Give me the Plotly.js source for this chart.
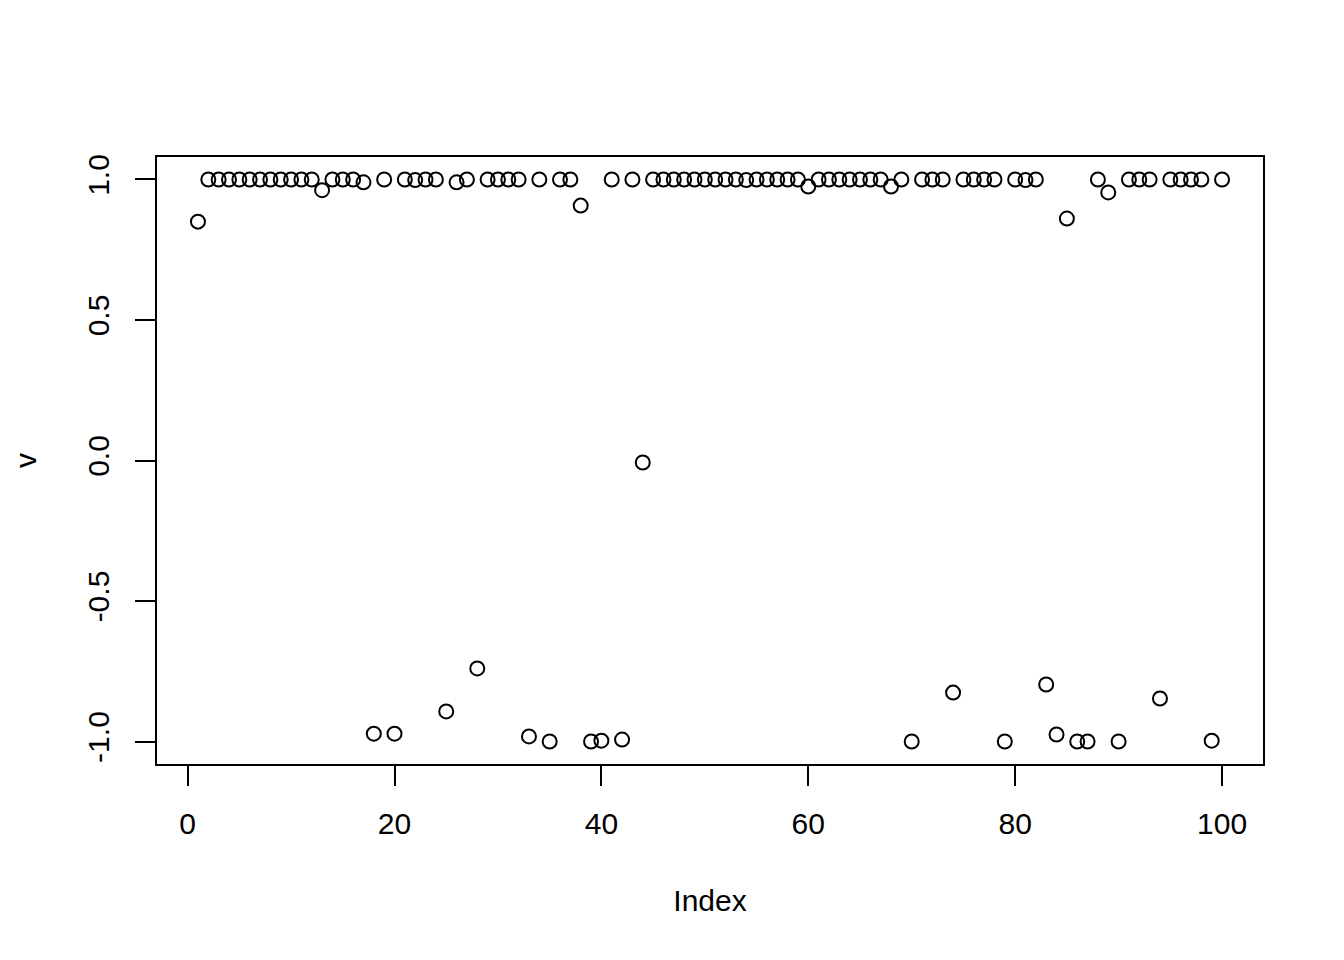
<!DOCTYPE html>
<html>
<head>
<meta charset="utf-8">
<script src="https://cdn.plot.ly/plotly-3.0.1.min.js"></script>
<style>html,body{margin:0;padding:0;background:#fff;}#chart{width:1344px;height:960px;}</style>
</head>
<body>
<div id="chart"></div>
<script>
const index = Array.from({length: 100}, (_, i) => i + 1);
const v = [
  0.85, 1, 1, 1, 1, 1, 1, 1, 1, 1,
  1, 1, 0.962, 1, 1, 1, 0.99, -0.972, 1, -0.972,
  1, 0.998, 1, 1, -0.893, 0.99, 1, -0.74, 1, 1,
  1, 1, -0.982, 1, -1, 1, 1, 0.907, -1, -0.997,
  1, -0.993, 1, -0.007, 1, 1, 1, 1, 1, 1,
  1, 1, 1, 0.998, 1, 1, 1, 1, 1, 0.975,
  1, 1, 1, 1, 1, 1, 1, 0.975, 1, -1,
  1, 1, 1, -0.826, 1, 1, 1, 1, -1, 1,
  0.998, 1, -0.797, -0.975, 0.861, -1, -1, 1, 0.954, -1,
  1, 1, 1, -0.847, 1, 1, 1, 1, -0.997, 1
];
const xTickVals = [0, 20, 40, 60, 80, 100];
const yTickVals = [-1, -0.5, 0, 0.5, 1];
const yTickText = ["-1.0", "-0.5", "0.0", "0.5", "1.0"];

const font = {family: "Liberation Sans, Arial, Helvetica, sans-serif", size: 30, color: "#000"};

const trace = {
  x: index, y: v, type: "scatter", mode: "markers",
  marker: {symbol: "circle-open", size: 14, color: "#000", line: {width: 2, color: "#000"}},
  hoverinfo: "x+y"
};

const layout = {
  width: 1344, height: 960,
  margin: {l: 157, r: 81, t: 157, b: 196},
  paper_bgcolor: "#fff", plot_bgcolor: "#fff",
  showlegend: false,
  font: font,
  xaxis: {
    range: [-2.96, 103.96], tickvals: xTickVals, ticks: "outside", ticklen: 20, tickwidth: 2, tickcolor: "#000",
    showline: true, mirror: true, linewidth: 2, linecolor: "#000", showgrid: false, zeroline: false,
    tickfont: font, ticklabelstandoff: 12,
    title: {text: "Index", font: font, standoff: 51}
  },
  yaxis: {
    range: [-1.08, 1.08], tickvals: yTickVals, ticktext: yTickText, ticks: "outside", ticklen: 20, tickwidth: 2, tickcolor: "#000",
    showline: true, mirror: true, linewidth: 2, linecolor: "#000", showgrid: false, zeroline: false,
    tickangle: -90, tickfont: font, ticklabelstandoff: 14,
    title: {text: "v", font: font, standoff: 37}
  }
};

Plotly.newPlot("chart", [trace], layout, {displayModeBar: false, staticPlot: true});
</script>
</body>
</html>
